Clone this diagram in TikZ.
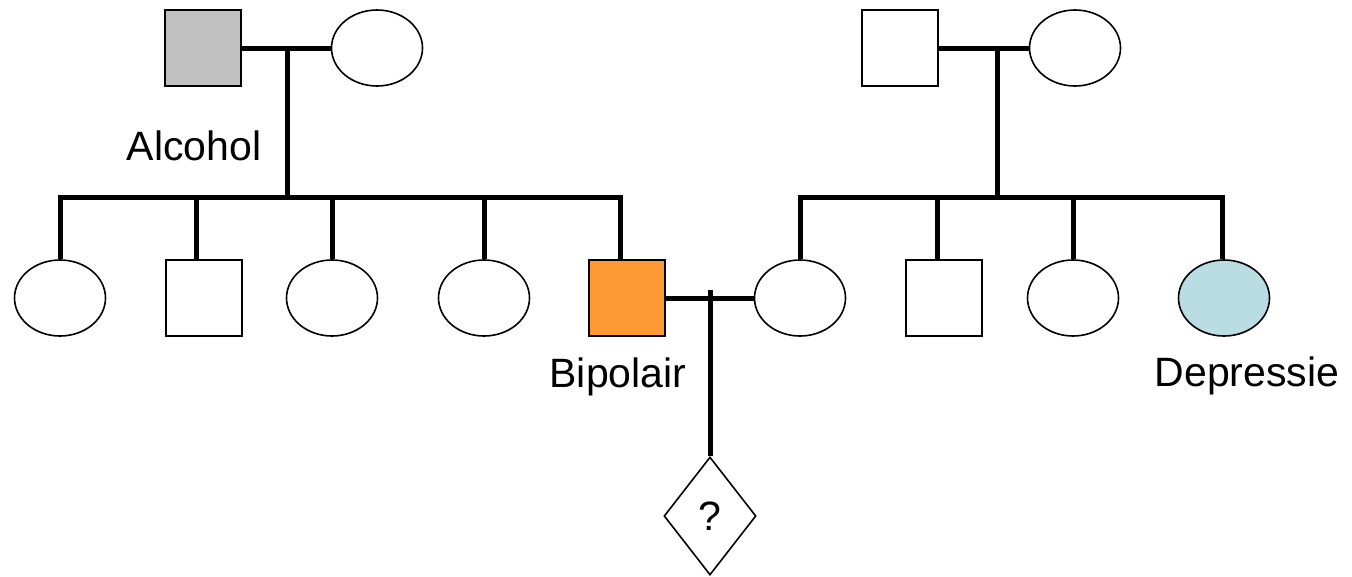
\documentclass[tikz,border=0pt]{standalone}
\usepackage{fontspec}
\setmainfont{Liberation Sans}
\usetikzlibrary{shapes.geometric}
\definecolor{affgray}{RGB}{192,192,192}
\definecolor{afforange}{RGB}{255,153,51}
\definecolor{affblue}{RGB}{185,221,226}
\begin{document}
\begin{tikzpicture}[x=1pt,y=-1pt,
  male/.style={draw=black,line width=1.6pt,rectangle,minimum width=76pt,minimum height=76pt,inner sep=0pt,fill=white},
  female/.style={draw=black,line width=1.6pt,ellipse,minimum width=91pt,minimum height=76pt,inner sep=0pt,fill=white},
  unknown/.style={draw=black,line width=1.6pt,diamond,minimum width=92pt,minimum height=118pt,inner sep=0pt,fill=white,font=\fontsize{41}{49}\selectfont},
  lbl/.style={font=\fontsize{41}{49}\selectfont,anchor=base,inner sep=0pt},
  link/.style={line width=5pt,line cap=rect}]
\useasboundingbox (0,0) rectangle (1352,576);
% generation 1
\node[male,fill=affgray] (gf1) at (203,48) {};
\node[female] (gm1) at (377,48) {};
\node[male] (gf2) at (900,48) {};
\node[female] (gm2) at (1075,48) {};
% generation 2 left
\node[female] (a1) at (60,298) {};
\node[male] (a2) at (204,298) {};
\node[female] (a3) at (332,298) {};
\node[female] (a4) at (484,298) {};
\node[male,fill=afforange] (a5) at (627,298) {};
% generation 2 right
\node[female] (b1) at (800,298) {};
\node[male] (b2) at (944,298) {};
\node[female] (b3) at (1073,298) {};
\node[female,fill=affblue] (b4) at (1224,298) {};
% generation 3
\node[unknown] (c1) at (710,516) {?};
% labels
\node[lbl] (l1) at (194,160) {Alcohol};
\node[lbl] (l2) at (618,387) {Bipolair};
\node[lbl] (l3) at (1247,386) {Depressie};
% coordinates
\coordinate (m1) at (287,48);
\coordinate (s1) at (287,197);
\coordinate (sl) at (60,197);
\coordinate (sr) at (620,197);
\coordinate (m2) at (997,48);
\coordinate (s2) at (997,197);
\coordinate (tl) at (800,197);
\coordinate (tr) at (1222,197);
\coordinate (m3) at (710,290);
% marriages
\draw[link,line cap=butt] (gf1.east) -- (gm1.west);
\draw[link,line cap=butt] (gf2.east) -- (gm2.west);
\draw[link,line cap=butt] (a5.east) -- (b1.west);
% descent
\draw[link] (m1) -- (s1);
\draw[link] (sl) -- (sr);
\draw[link,line cap=butt] (sl) -- (a1.north);
\draw[link,line cap=butt] (sl -| a2.north) ++(-8,0) coordinate (d2) -- (d2 |- a2.north);
\draw[link,line cap=butt] (sl -| a3.north) -- (a3.north);
\draw[link,line cap=butt] (sl -| a4.north) -- (a4.north);
\draw[link,line cap=butt] (sr) -- (sr |- a5.north);
\draw[link] (m2) -- (s2);
\draw[link] (tl) -- (tr);
\draw[link,line cap=butt] (tl) -- (b1.north);
\draw[link,line cap=butt] (tl -| b2.north) ++(-7,0) coordinate (d6) -- (d6 |- b2.north);
\draw[link,line cap=butt] (tl -| b3.north) -- (b3.north);
\draw[link,line cap=butt] (tr) -- (tr |- b4.north);
\draw[link,line cap=butt] (m3) -- (c1.north);
\end{tikzpicture}
\end{document}
